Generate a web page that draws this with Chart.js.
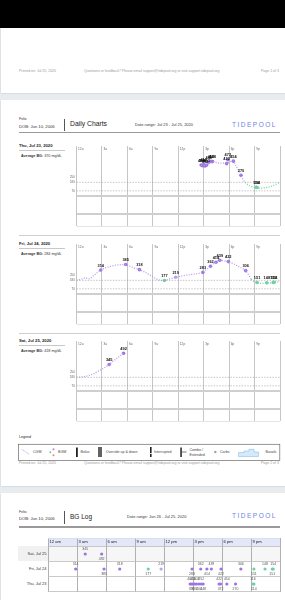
<!DOCTYPE html>
<html><head><meta charset="utf-8">
<script src="https://cdn.jsdelivr.net/npm/chart.js@4.4.1/dist/chart.umd.min.js"></script>
<style>
html,body{margin:0;padding:0}
body{width:285px;height:600px;overflow:hidden;position:relative;background:#e9ecef;font-family:"Liberation Sans",Arial,Helvetica,sans-serif;color:#333}
.t{position:absolute;white-space:nowrap;line-height:1}
.page{position:absolute;left:1px;width:300px;background:#fff;box-shadow:0 0.5px 1.5px rgba(0,0,0,.18)}
.bar{position:absolute}
canvas{position:absolute}
.foot{font-size:3.5px;color:#9a9a9a}
</style></head><body>
<div class="bar" style="left:0;top:0;width:285px;height:28px;background:#000"></div>
<div class="page" style="top:28px;height:65px"></div>
<div class="page" style="top:100px;height:386px"></div>
<div class="page" style="top:493px;height:120px"></div>

<!-- page 1 footer -->
<div class="t foot" style="left:19px;top:70.3px">Printed on: Jul 25, 2020</div>
<div class="t foot" style="left:84px;top:70.3px">Questions or feedback? Please email support@tidepool.org or visit support.tidepool.org</div>
<div class="t foot" style="left:261px;top:70.3px">Page 1 of 3</div>

<!-- page 2 header -->
<div class="t" style="left:19px;top:118.2px;font-size:3.6px">Felix</div>
<div class="t" style="left:19px;top:124.6px;font-size:4.2px">DOB: Jun 10, 2006</div>
<div class="bar" style="left:64px;top:119px;width:0.7px;height:12px;background:#555"></div>
<div class="t" style="left:70px;top:121.3px;font-size:6.8px;color:#222">Daily Charts</div>
<div class="t" style="left:135px;top:122.7px;font-size:4px">Date range: Jul 23 - Jul 25, 2020</div>
<div class="t" style="left:232px;top:121.5px;font-size:6.5px;letter-spacing:1.5px;color:#6e84e6">TIDEPOOL</div>
<div class="bar" style="left:19px;top:131.6px;width:261px;height:1.3px;background:#9a9a9a"></div>

<!-- day 1 -->
<div class="t" style="left:19px;top:143.6px;font-size:4.2px;font-weight:bold;color:#222">Thu, Jul 23, 2020</div>
<div class="bar" style="left:19px;top:150px;width:46px;height:0.6px;background:#c8c8c8"></div>
<div class="t" style="left:21px;top:154.85px;font-size:3.7px"><b>Average BG:</b> 370 mg/dL</div>
<canvas id="day1" width="218" height="88" style="left:66px;top:142px"></canvas>

<div class="bar" style="left:19px;top:234.6px;width:261px;height:0.8px;background:#cfcfcf"></div>
<!-- day 2 -->
<div class="t" style="left:19px;top:241.6px;font-size:4.2px;font-weight:bold;color:#222">Fri, Jul 24, 2020</div>
<div class="bar" style="left:19px;top:248px;width:46px;height:0.6px;background:#c8c8c8"></div>
<div class="t" style="left:21px;top:252.85px;font-size:3.7px"><b>Average BG:</b> 284 mg/dL</div>
<canvas id="day2" width="218" height="88" style="left:66px;top:240px"></canvas>

<div class="bar" style="left:19px;top:332.6px;width:261px;height:0.8px;background:#cfcfcf"></div>
<!-- day 3 -->
<div class="t" style="left:19px;top:338.6px;font-size:4.2px;font-weight:bold;color:#222">Sat, Jul 25, 2020</div>
<div class="bar" style="left:19px;top:345px;width:46px;height:0.6px;background:#c8c8c8"></div>
<div class="t" style="left:21px;top:349.85px;font-size:3.7px"><b>Average BG:</b> 418 mg/dL</div>
<canvas id="day3" width="218" height="88" style="left:66px;top:337px"></canvas>

<!-- legend -->
<div class="t" style="left:19px;top:435.5px;font-size:3.6px;color:#222">Legend</div>
<svg style="position:absolute;left:0;top:440px" width="285" height="24" font-family="Liberation Sans, Arial, sans-serif" font-size="3.6" fill="#444">
  <defs><linearGradient id="cg" x1="0" y1="0" x2="1" y2="1"><stop offset="0" stop-color="#d08ad8"/><stop offset="1" stop-color="#7cc6ea"/></linearGradient></defs>
  <rect x="18.6" y="4.3" width="261.2" height="16.3" fill="none" stroke="#6a6a6a" stroke-width="0.7"/>
  <line x1="21.7" y1="9.3" x2="29.3" y2="14.3" stroke="url(#cg)" stroke-width="0.9" stroke-dasharray="0.9 0.7"/>
  <text x="33" y="13.3">CGM</text>
  <circle cx="53.5" cy="9.2" r="1" fill="#a987e6"/><circle cx="50.3" cy="12.3" r="1" fill="#6fd1a1"/><circle cx="53.5" cy="15.3" r="1" fill="#f08878"/>
  <text x="58" y="13.3">BGM</text>
  <rect x="76" y="7.5" width="1.8" height="9.5" fill="#222"/>
  <text x="80.5" y="13.3">Bolus</text>
  <rect x="98.3" y="7" width="1.4" height="10" fill="#222"/><rect x="100.3" y="7" width="1.4" height="10" fill="#222"/>
  <text x="105.7" y="13.3">Override up &amp; down</text>
  <rect x="150" y="7" width="1.6" height="6" fill="#222"/><rect x="150" y="13.8" width="1.6" height="3.2" fill="#222"/>
  <text x="154" y="13.3">Interrupted</text>
  <rect x="180.3" y="7.5" width="1.5" height="9.5" fill="#222"/><line x1="181.8" y1="12" x2="186.5" y2="12" stroke="#222" stroke-width="0.6"/>
  <text x="189.5" y="10.8">Combo /</text><text x="189.5" y="15.6">Extended</text>
  <circle cx="215.3" cy="12" r="1.2" fill="#9aa6b2"/>
  <text x="220" y="13.3">Carbs</text>
  <path d="M238.5 16.5 V12.5 H244 V11 H249 V9.3 H254 V12 H258.5 V16.5 Z" fill="#d5eaf9" stroke="#76b6ea" stroke-width="0.5"/>
  <text x="265.5" y="13.3">Basals</text>
</svg>

<!-- page 2 footer -->
<div class="t foot" style="left:19px;top:462.3px">Printed on: Jul 25, 2020</div>
<div class="t foot" style="left:84px;top:462.3px">Questions or feedback? Please email support@tidepool.org or visit support.tidepool.org</div>
<div class="t foot" style="left:261px;top:462.3px">Page 2 of 3</div>

<!-- page 3 header -->
<div class="t" style="left:19px;top:510.9px;font-size:3.6px">Felix</div>
<div class="t" style="left:19px;top:517.2px;font-size:4.2px">DOB: Jun 10, 2006</div>
<div class="bar" style="left:64px;top:511px;width:0.7px;height:12.5px;background:#555"></div>
<div class="t" style="left:70px;top:513.5px;font-size:6.5px;color:#222">BG Log</div>
<div class="t" style="left:127px;top:514.7px;font-size:4px">Date range: Jun 26 - Jul 25, 2020</div>
<div class="t" style="left:232px;top:513.25px;font-size:6.5px;letter-spacing:1.5px;color:#6e84e6">TIDEPOOL</div>
<div class="bar" style="left:19px;top:526.3px;width:261px;height:1.3px;background:#9a9a9a"></div>

<div class="bar" style="left:18px;top:546px;width:29.7px;height:15px;background:#f1f1f1"></div>
<div class="t" style="left:0;width:46.5px;text-align:right;top:551.5px;font-size:4px">Sat, Jul 25</div>
<div class="t" style="left:0;width:46.5px;text-align:right;top:566.5px;font-size:4px">Fri, Jul 24</div>
<div class="t" style="left:0;width:46.5px;text-align:right;top:581.5px;font-size:4px">Thu, Jul 23</div>
<canvas id="log" width="240" height="62" style="left:44px;top:534px"></canvas>

<script>
const FONT = '"Liberation Sans", Arial, sans-serif';
const hourLabels = ['12a','3a','6a','9a','12p','3p','6p','9p'];
const logHourLabels = ['12 am','3 am','6 am','9 am','12 pm','3 pm','6 pm','9 pm'];
const hourGrid = [0,3,6,9,12,15,18,21,24];
const bgTickValues = [70,180,250];
const targetLow = 70, targetHigh = 180, veryHigh = 250;

// CGM traces: [hour of day, mg/dL]
const thuCgm = [[14.7,404],[15.0,400],[15.3,405],[15.6,418],[15.9,432],[16.2,440],[16.5,436],[16.8,430],[17.1,428],[17.4,430],[17.7,428],[18.0,440],[18.25,452],[18.5,452],[18.8,395],[19.1,330],[19.4,270],[19.65,215],[19.9,180],[20.2,150],[20.6,128],[21.0,112],[21.4,104],[21.8,104],[22.2,110],[22.6,118],[23.0,130],[23.4,148],[23.8,168],[24,178]];
const friCgm = [[0,182],[0.5,192],[1.0,210],[1.5,200],[2.0,240],[2.5,285],[2.86,314],[3.25,335],[3.75,352],[4.25,368],[4.75,378],[5.3,383],[5.8,385],[6.3,362],[6.8,340],[7.42,318],[8.0,290],[8.5,258],[9.0,225],[9.5,195],[10.0,180],[10.37,177],[10.8,192],[11.3,208],[11.7,219],[12.2,232],[12.7,242],[13.2,250],[13.7,258],[14.3,268],[14.9,283],[15.3,318],[15.8,362],[16.1,390],[16.44,414],[16.9,439],[17.4,432],[17.9,422],[18.4,400],[18.9,372],[19.45,340],[19.95,306],[20.3,250],[20.6,195],[20.9,165],[21.3,151],[21.8,140],[22.1,142],[22.45,148],[22.8,145],[23.2,151],[23.6,158],[24,166]];
const satCgm = [[0,182],[0.5,184],[1.0,190],[1.5,206],[2.0,226],[2.5,256],[3.0,285],[3.5,318],[3.85,345],[4.25,382],[4.75,425],[5.2,462],[5.55,492]];

// BGM readings: [hour of day, mg/dL]
const thuBgm = [[14.7,404],[14.85,396],[15.0,410],[15.15,392],[15.35,403],[15.6,440],[15.85,452],[16.05,448],[17.7,422],[17.85,472],[18.5,454],[19.4,270],[21.2,116],[21.3,114]];
const friBgm = [[2.86,314],[5.8,385],[7.42,318],[10.37,177],[11.7,219],[14.9,283],[15.8,362],[16.44,414],[16.9,439],[17.9,422],[19.95,306],[21.3,151],[22.45,148],[23.2,151],[23.3,154]];
const satBgm = [[3.85,345],[5.55,492]];

const BG_MAX = 650, LOWER_MIN = -385, BOLUS_BOTTOM = -229;

function bgColor(v){ return v>veryHigh ? '#9d74e4' : v>targetHigh ? '#c0a2f0' : v>=targetLow ? '#6fd1a1' : '#f27b6e'; }

const dailyText = {
  id:'dailyText',
  afterDatasetsDraw(chart){
    const {ctx, chartArea:a, scales:{x,y}} = chart;
    ctx.save();
    ctx.fillStyle='#666'; ctx.font='3.2px '+FONT; ctx.textAlign='left'; ctx.textBaseline='top';
    hourLabels.forEach((l,i)=>ctx.fillText(l, x.getPixelForValue(hourGrid[i])+1.6, a.top+1.4));
    ctx.textAlign='right'; ctx.textBaseline='middle'; ctx.font='3px '+FONT;
    bgTickValues.forEach(v=>ctx.fillText(String(v), a.left-1.6, y.getPixelForValue(v)));
    const ds = chart.data.datasets[3], meta = chart.getDatasetMeta(3);
    ctx.fillStyle='#111'; ctx.font='bold 3.9px '+FONT; ctx.textAlign='center'; ctx.textBaseline='alphabetic';
    meta.data.forEach((el,i)=>ctx.fillText(String(ds.data[i].y), el.x, el.y-3.4));
    ctx.restore();
  }
};

function dailyChart(id, cgm, bgm){
  new Chart(document.getElementById(id), {
    type:'scatter',
    data:{datasets:[
      {type:'line', data:[{x:0,y:targetHigh},{x:24,y:targetHigh}], borderColor:'#999', borderWidth:0.6, borderDash:[1.4,1.4], pointRadius:0},
      {type:'line', data:[{x:0,y:targetLow},{x:24,y:targetLow}], borderColor:'#999', borderWidth:0.6, borderDash:[1.4,1.4], pointRadius:0},
      {type:'line', data:cgm.map(p=>({x:p[0],y:p[1]})), borderColor:'#b89bec', borderWidth:1.3, borderDash:[1,1.5], pointRadius:0, cubicInterpolationMode:'monotone',
        segment:{borderColor:c=>((c.p0.parsed.y+c.p1.parsed.y)/2>targetHigh ? '#b89bec' : '#72d3a5')}},
      {type:'scatter', data:bgm.map(p=>({x:p[0],y:p[1]})), pointRadius:1.8, pointBorderWidth:0, pointBackgroundColor:bgm.map(p=>bgColor(p[1]))}
    ]},
    options:{responsive:false, animation:false, events:[],
      layout:{padding:{left:10.5,right:4,top:1,bottom:1}},
      plugins:{legend:{display:false}, tooltip:{enabled:false}},
      scales:{
        x:{type:'linear', min:0, max:24, afterBuildTicks:s=>{s.ticks=hourGrid.map(v=>({value:v}));}, ticks:{display:false},
           grid:{color:'#c6c6c6', lineWidth:1, drawTicks:false}, border:{display:false}, afterFit:s=>{s.height=0;}},
        y:{type:'linear', min:LOWER_MIN, max:BG_MAX, afterBuildTicks:s=>{s.ticks=[LOWER_MIN,BOLUS_BOTTOM,0].map(v=>({value:v}));}, ticks:{display:false},
           grid:{color:c=>(c.tick && c.tick.value===LOWER_MIN ? '#d8d8d8' : '#cfcfcf'), lineWidth:c=>(c.tick && c.tick.value===LOWER_MIN ? 0.7 : 2), drawTicks:false},
           border:{display:false}, afterFit:s=>{s.width=0;}}
      }
    },
    plugins:[dailyText]
  });
}
dailyChart('day1', thuCgm, thuBgm);
dailyChart('day2', friCgm, friBgm);
dailyChart('day3', satCgm, satBgm);

// BG log
const logRows = [thuBgm, friBgm, satBgm]; // bottom to top
const LOG_TOP = 3 + 8.5/15;
const logPlugin = {
  id:'logPlugin',
  beforeDraw(chart){
    const {ctx, chartArea:a, scales:{y}} = chart;
    ctx.save();
    ctx.fillStyle='#e3e7f8';
    ctx.fillRect(a.left, y.getPixelForValue(LOG_TOP), a.right-a.left, y.getPixelForValue(3)-y.getPixelForValue(LOG_TOP));
    ctx.fillStyle='#f6f6f6';
    ctx.fillRect(a.left, y.getPixelForValue(3), a.right-a.left, y.getPixelForValue(2)-y.getPixelForValue(3));
    ctx.restore();
  },
  afterDatasetsDraw(chart){
    const {ctx, scales:{x,y}} = chart;
    ctx.save();
    ctx.fillStyle='#222'; ctx.font='4.2px '+FONT; ctx.textAlign='left'; ctx.textBaseline='middle';
    const hy = (y.getPixelForValue(LOG_TOP)+y.getPixelForValue(3))/2;
    logHourLabels.forEach((l,i)=>ctx.fillText(l, x.getPixelForValue(hourGrid[i])+1.4, hy));
    ctx.fillStyle='#555'; ctx.font='3.5px '+FONT; ctx.textAlign='center';
    chart.data.datasets.forEach((ds,di)=>{
      const meta = chart.getDatasetMeta(di);
      meta.data.forEach((el,i)=>ctx.fillText(String(ds.data[i].v), el.x, el.y + (i%2===0 ? -4.8 : 4.8)));
    });
    ctx.restore();
  }
};
new Chart(document.getElementById('log'), {
  type:'scatter',
  data:{datasets:logRows.map((rows,ri)=>({
    data:rows.map(p=>({x:p[0], y:ri+0.5, v:p[1]})),
    pointRadius:1.6, pointBorderWidth:0, pointBackgroundColor:rows.map(p=>bgColor(p[1]))
  }))},
  options:{responsive:false, animation:false, events:[],
    layout:{padding:{left:3.7,right:4,top:3.5,bottom:4.5}},
    plugins:{legend:{display:false}, tooltip:{enabled:false}},
    scales:{
      x:{type:'linear', min:0, max:24, afterBuildTicks:s=>{s.ticks=hourGrid.map(v=>({value:v}));}, ticks:{display:false},
         grid:{color:'#a8a8a8', lineWidth:0.9, drawTicks:false}, border:{display:false}, afterFit:s=>{s.height=0;}},
      y:{type:'linear', min:0, max:LOG_TOP, afterBuildTicks:s=>{s.ticks=[0,1,2,3,LOG_TOP].map(v=>({value:v}));}, ticks:{display:false},
         grid:{color:c=>(c.tick && c.tick.value===LOG_TOP ? '#d8dcf0' : '#bdbdbd'), lineWidth:0.8, drawTicks:false}, border:{display:false}, afterFit:s=>{s.width=0;}}
    }
  },
  plugins:[logPlugin]
});
</script>
</body></html>
